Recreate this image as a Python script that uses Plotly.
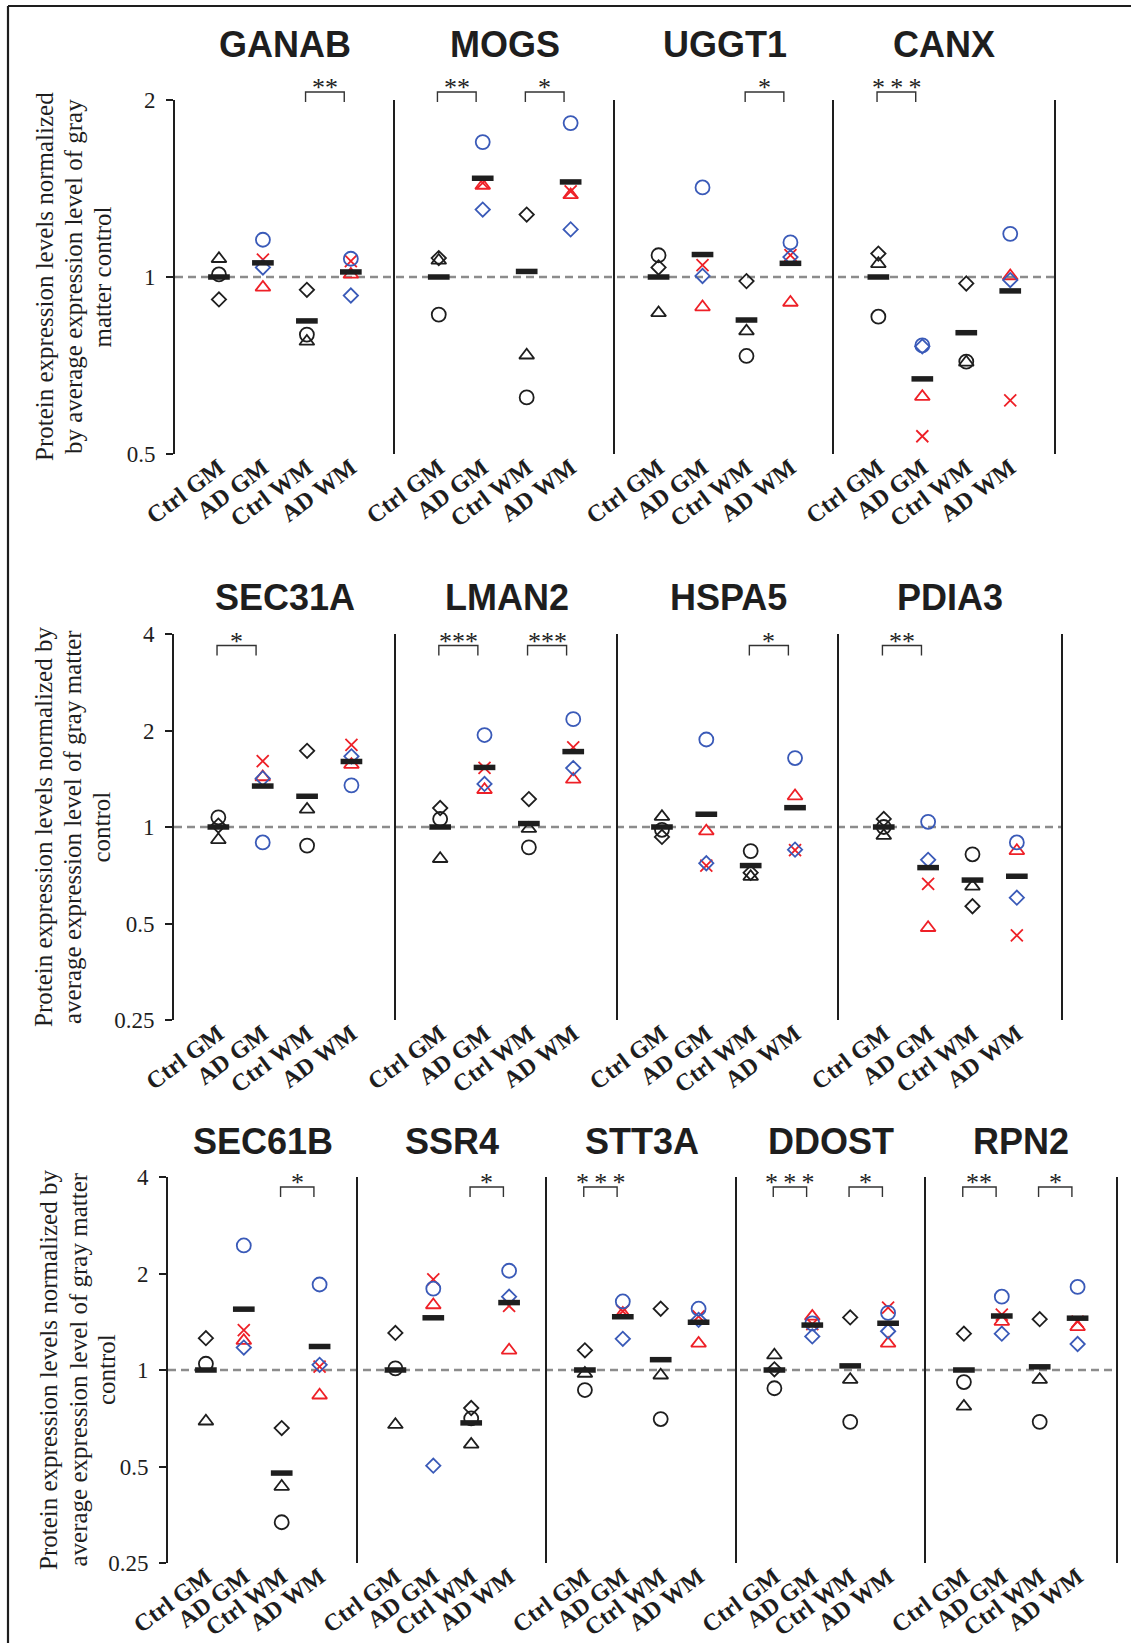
import math
import plotly.graph_objects as go

# ---------------- data ----------------
GENES = ["GANAB", "MOGS", "UGGT1", "CANX",
         "SEC31A", "LMAN2", "HSPA5", "PDIA3",
         "SEC61B", "SSR4", "STT3A", "DDOST", "RPN2"]
GENE_ROW = [0, 0, 0, 0, 1, 1, 1, 1, 2, 2, 2, 2, 2]
CATEGORIES = ["Ctrl GM", "AD GM", "Ctrl WM", "AD WM"]

# control subjects (black), values at [Ctrl GM, Ctrl WM]
CTRL_CIRCLE = [[1.01, 0.798], [0.863, 0.624], [1.089, 0.734], [0.856, 0.718],
               [1.072, 0.875], [1.059, 0.864], [0.98, 0.841], [1.0, 0.822],
               [1.046, 0.335], [1.012, 0.706], [0.866, 0.703], [0.877, 0.689], [0.917, 0.689]]
CTRL_TRIANGLE = [[1.074, 0.777], [1.067, 0.736], [0.869, 0.809], [1.053, 0.716],
                 [0.912, 1.135], [0.796, 0.988], [1.077, 0.70], [0.94, 0.653],
                 [0.692, 0.433], [0.675, 0.586], [0.975, 0.963], [1.112, 0.933], [0.770, 0.933]]
CTRL_DIAMOND = [[0.916, 0.951], [1.077, 1.277], [1.038, 0.984], [1.096, 0.975],
                [1.01, 1.728], [1.146, 1.222], [0.931, 0.72], [1.06, 0.566],
                [1.257, 0.659], [1.305, 0.761], [1.152, 1.553], [1.005, 1.459], [1.298, 1.441]]

# AD subjects, values at [AD GM, AD WM]
AD_X_RED = [[1.07, 1.064], [1.446, 1.398], [1.048, 1.089], [0.536, 0.617],
            [1.605, 1.803], [1.53, 1.772], [0.758, 0.847], [0.665, 0.459],
            [1.331, 1.025], [1.918, 1.584], [1.525, 1.47], [1.39, 1.564], [1.488, 1.416]]
AD_TRIANGLE_RED = [[0.960, 1.01], [1.431, 1.379], [0.889, 0.905], [0.626, 1.004],
                   [1.432, 1.565], [1.307, 1.407], [0.971, 1.249], [0.485, 0.843],
                   [1.235, 0.834], [1.595, 1.152], [1.50, 1.211], [1.47, 1.211], [1.416, 1.364]]
AD_CIRCLE_BLUE = [[1.157, 1.074], [1.696, 1.827], [1.420, 1.145], [0.765, 1.184],
                  [0.895, 1.349], [1.936, 2.17], [1.875, 1.641], [1.038, 0.895],
                  [2.446, 1.848], [1.793, 2.04], [1.636, 1.553], [1.398, 1.507], [1.693, 1.816]]
AD_DIAMOND_BLUE = [[1.038, 0.930], [1.302, 1.205], [1.004, 1.081], [0.762, 0.988],
                   [1.418, 1.661], [1.363, 1.527], [0.771, 0.85], [0.79, 0.602],
                   [1.175, 1.038], [0.503, 1.693], [1.251, 1.434], [1.273, 1.321], [1.298, 1.205]]

# group means at [Ctrl GM, AD GM, Ctrl WM, AD WM]
MEANS = [[1.0, 1.057, 0.842, 1.02], [1.0, 1.472, 1.022, 1.451], [1.0, 1.092, 0.845, 1.055],
         [1.0, 0.671, 0.804, 0.947], [1.0, 1.342, 1.247, 1.601], [1.0, 1.534, 1.025, 1.719],
         [1.0, 1.096, 0.758, 1.149], [1.0, 0.747, 0.683, 0.702], [1.0, 1.548, 0.477, 1.184],
         [1.0, 1.455, 0.684, 1.623], [1.0, 1.466, 1.077, 1.409], [1.0, 1.381, 1.03, 1.399],
         [1.0, 1.474, 1.023, 1.451]]

# significance brackets: (category a, category b, label)
SIGNIF = [[(3, 4, "**")], [(1, 2, "**"), (3, 4, "*")], [(3, 4, "*")], [(1, 2, "* * *")],
          [(1, 2, "*")], [(1, 2, "***"), (3, 4, "***")], [(3, 4, "*")], [(1, 2, "**")],
          [(3, 4, "*")], [(3, 4, "*")], [(1, 2, "* * *")], [(1, 2, "* * *"), (3, 4, "*")],
          [(1, 2, "**"), (3, 4, "*")]]

ROW_YTICKS = [[0.5, 1, 2], [0.25, 0.5, 1, 2, 4], [0.25, 0.5, 1, 2, 4]]
ROW_YTICKTEXT = [["0.5", "1", "2"], ["0.25", "0.5", "1", "2", "4"], ["0.25", "0.5", "1", "2", "4"]]
ROW_YTITLE_LINES = [
    ["Protein expression levels normalized", "by average expression level of gray", "matter control"],
    ["Protein expression levels normalized by", "average expression level of gray matter", "control"],
    ["Protein expression levels normalized by", "average expression level of gray matter", "control"],
]

# ---------------- layout geometry (pixels) ----------------
W, H = 1131, 1643
ROW_LEFT = [175, 174, 168]
ROW_PANEL_W = [219.8, 221.8, 189.5]
ROW_TOP = [100, 634, 1177]
ROW_BOTTOM = [454, 1020, 1563]
TITLE_Y = [45, 598, 1141]
YTITLE_LINE_X = [[44, 73, 101.5], [43, 72, 100.5], [48, 77.5, 106]]
BRACKET_TOP = [-8, 11.5, 10]      # px below axis top (negative = above)
BRACKET_DROP = 10

SERIF = "Liberation Serif, Times New Roman, serif"
SANS = "Liberation Sans, Arial, sans-serif"
BLACK = "#1e1e1e"
RED = "#ee2027"
BLUE = "#3a5ab8"

fig = go.Figure()
layout = dict(width=W, height=H, margin=dict(l=0, r=0, t=0, b=0, pad=0, autoexpand=False),
              paper_bgcolor="white", plot_bgcolor="white", showlegend=False)
shapes, annotations = [], []

pos_in_row = [0, 0, 0]
row_first = {}
row_last = {}
for g, gene in enumerate(GENES):
    r = GENE_ROW[g]
    p = pos_in_row[r]
    pos_in_row[r] += 1
    k = g + 1
    xa = "xaxis" if k == 1 else f"xaxis{k}"
    ya = "yaxis" if k == 1 else f"yaxis{k}"
    xr = "x" if k == 1 else f"x{k}"
    yr = "y" if k == 1 else f"y{k}"
    if r not in row_first:
        row_first[r] = k
    row_last[r] = k
    x0 = (ROW_LEFT[r] + p * ROW_PANEL_W[r]) / W
    x1 = (ROW_LEFT[r] + (p + 1) * ROW_PANEL_W[r]) / W
    y0 = 1 - ROW_BOTTOM[r] / H
    y1 = 1 - ROW_TOP[r] / H
    first = (p == 0)
    lo, hi = ROW_YTICKS[r][0], ROW_YTICKS[r][-1]
    layout[xa] = dict(domain=[x0, x1], anchor=yr, range=[0, 5], tickmode="array",
                      tickvals=[1, 2, 3, 4], ticktext=CATEGORIES, tickangle=-37,
                      showline=False, showgrid=False, zeroline=False, ticks="",
                      automargin=False, ticklabelstandoff=-6,
                      tickfont=dict(family=SERIF, size=24, color=BLACK, weight="bold"))
    layout[ya] = dict(domain=[y0, y1], anchor=xr, type="log",
                      range=[math.log10(lo), math.log10(hi)],
                      showline=True, linewidth=2, linecolor=BLACK, showgrid=False,
                      zeroline=False, tickmode="array", tickvals=ROW_YTICKS[r],
                      ticktext=ROW_YTICKTEXT[r], ticks="outside" if first else "",
                      ticklen=7, tickwidth=2, tickcolor=BLACK,
                      showticklabels=first, automargin=False, ticklabelstandoff=6,
                      tickfont=dict(family=SERIF, size=23, color=BLACK))

    def pts(xs, ys, symbol, color, size, name):
        fig.add_trace(go.Scatter(
            x=xs, y=ys, mode="markers", name=name, xaxis=xr, yaxis=yr,
            cliponaxis=False, hoverinfo="skip",
            marker=dict(symbol=symbol, size=size, color=color,
                        line=dict(color=color, width=1.8))))

    pts([1, 3], CTRL_CIRCLE[g], "circle-open", BLACK, 14, "Ctrl circle")
    pts([1, 3], CTRL_TRIANGLE[g], "triangle-up-open", BLACK, 13, "Ctrl triangle")
    pts([1, 3], CTRL_DIAMOND[g], "diamond-open", BLACK, 11, "Ctrl diamond")
    pts([2, 4], AD_X_RED[g], "x-thin", RED, 12, "AD x")
    pts([2, 4], AD_TRIANGLE_RED[g], "triangle-up-open", RED, 13, "AD triangle")
    pts([2, 4], AD_CIRCLE_BLUE[g], "circle-open", BLUE, 14, "AD circle")
    pts([2, 4], AD_DIAMOND_BLUE[g], "diamond-open", BLUE, 11, "AD diamond")
    fig.add_trace(go.Scatter(
        x=[1, 2, 3, 4], y=MEANS[g], mode="markers", name="mean", xaxis=xr, yaxis=yr,
        cliponaxis=False, hoverinfo="skip",
        marker=dict(symbol="line-ew", size=15.5, color=BLACK,
                    line=dict(color=BLACK, width=5.5))))

    # panel title
    annotations.append(dict(text=f"<b>{gene}</b>", xref="paper", yref="paper",
                            x=(x0 + x1) / 2, y=1 - TITLE_Y[r] / H, xanchor="center",
                            yanchor="middle", showarrow=False,
                            font=dict(family=SANS, size=36, color=BLACK)))

    # significance brackets
    dom_h = ROW_BOTTOM[r] - ROW_TOP[r]
    ytop = 1 - BRACKET_TOP[r] / dom_h
    ybot = 1 - (BRACKET_TOP[r] + BRACKET_DROP) / dom_h
    for a, b, lab in SIGNIF[g]:
        bx0, bx1 = a - 0.03, b - 0.15
        shapes.append(dict(type="path", xref=xr, yref=f"{yr} domain",
                           path=f"M {bx0},{ybot} L {bx0},{ytop} L {bx1},{ytop} L {bx1},{ybot}",
                           line=dict(color="#333333", width=1.4)))
        txt = lab.replace(" ", "\u2009")
        annotations.append(dict(text=txt, xref=xr, yref=f"{yr} domain",
                                x=(bx0 + bx1) / 2, y=ytop, xanchor="center",
                                yanchor="bottom", yshift=-12, showarrow=False,
                                font=dict(family=SERIF, size=26, color="#222222")))

# dashed reference line at 1 across each row, y titles, mirrored last line
for r in range(3):
    kf, kl = row_first[r], row_last[r]
    yr = "y" if kf == 1 else f"y{kf}"
    xl = ROW_LEFT[r] / W
    xrgt = (ROW_LEFT[r] + (kl - kf + 1) * ROW_PANEL_W[r]) / W
    shapes.append(dict(type="line", xref="paper", yref=yr, x0=xl, x1=xrgt, y0=1, y1=1,
                       layer="below", line=dict(color="#8c8c8c", width=2.5, dash="8px,5px")))
    ya_last = "yaxis" if kl == 1 else f"yaxis{kl}"
    layout[ya_last]["mirror"] = True
    for line_txt, lx in zip(ROW_YTITLE_LINES[r], YTITLE_LINE_X[r]):
        annotations.append(dict(text=line_txt, xref="paper", yref="paper",
                                x=lx / W,
                                y=1 - (ROW_TOP[r] + ROW_BOTTOM[r]) / 2 / H,
                                xanchor="center", yanchor="middle", textangle=-90,
                                showarrow=False, align="center",
                                font=dict(family=SERIF, size=25, color=BLACK)))

# outer frame (left and top edges)
shapes.append(dict(type="line", xref="paper", yref="paper", x0=8 / W, x1=8 / W,
                   y0=0, y1=1 - 6 / H, line=dict(color=BLACK, width=2.2)))
shapes.append(dict(type="line", xref="paper", yref="paper", x0=8 / W, x1=1,
                   y0=1 - 6 / H, y1=1 - 6 / H, line=dict(color=BLACK, width=2.2)))

layout["shapes"] = shapes
layout["annotations"] = annotations
fig.update_layout(**layout)
fig.write_html("out.html")
